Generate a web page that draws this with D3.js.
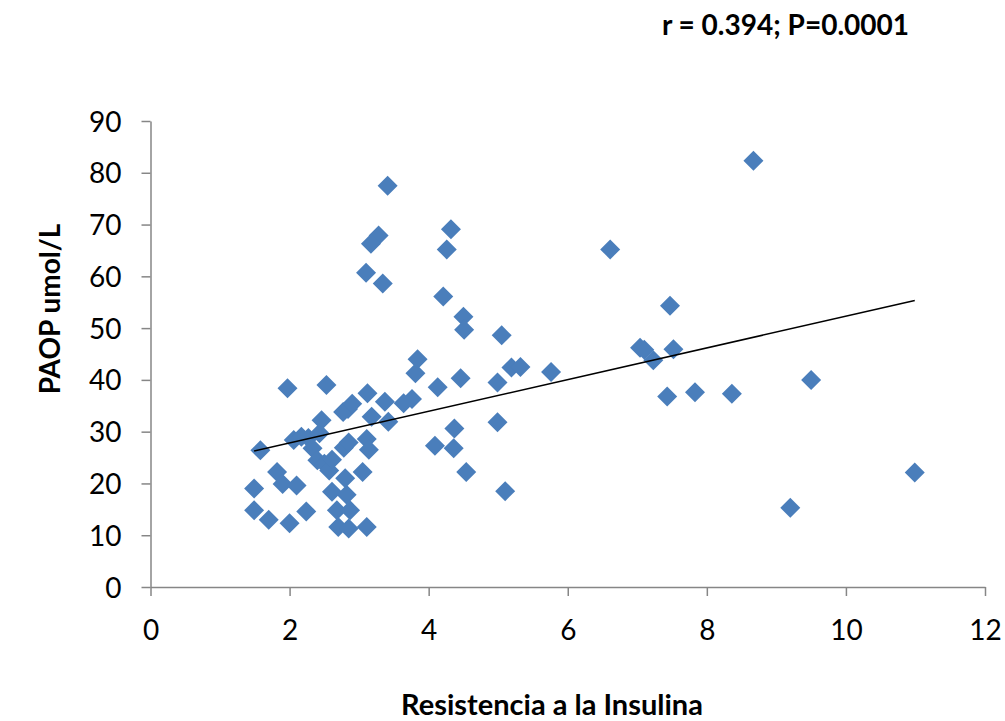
<!DOCTYPE html>
<html>
<head>
<meta charset="utf-8">
<script src="https://cdn.jsdelivr.net/npm/d3@7"></script>
<style>
  body { margin: 0; background: #fff; }
  svg text { font-family: Lato, "Open Sans", sans-serif; fill: #000; }
  .tick text { font-size: 28px; }
</style>
</head>
<body>
<script>
// values
var resistencia = [1.49, 1.49, 1.58, 1.70, 1.82, 1.90, 1.97, 2.00, 2.10, 2.06,
    2.17, 2.24, 2.27, 2.33, 2.40, 2.43, 2.46, 2.50, 2.53, 2.57,
    2.61, 2.61, 2.68, 2.70, 2.82, 2.80, 2.78, 2.85, 2.87, 2.85,
    2.77, 2.84, 2.90, 3.05, 3.11, 3.14, 3.12, 3.18, 3.11, 3.37,
    3.42, 3.64, 3.76, 3.81, 3.84, 3.41, 3.28, 3.17, 3.10, 3.34,
    4.32, 4.26, 4.21, 4.50, 4.51, 5.05, 4.13, 4.46, 4.99, 5.19,
    5.32, 5.76, 4.99, 4.37, 4.09, 4.36, 4.54, 5.10, 6.61, 7.47,
    7.04, 7.10, 7.52, 7.23, 7.43, 7.83, 8.36, 8.67, 9.50, 9.20, 10.99];
var paop = [19.0, 14.8, 26.4, 13.0, 22.2, 19.9, 38.4, 12.3, 19.6, 28.4,
    29.0, 14.6, 28.8, 26.8, 24.5, 29.7, 32.2, 23.8, 39.0, 22.5,
    24.6, 18.4, 14.8, 11.6, 17.8, 21.0, 26.9, 11.3, 14.8, 27.9,
    33.8, 34.4, 35.4, 22.2, 28.6, 26.5, 37.4, 32.9, 11.6, 35.8,
    31.9, 35.5, 36.3, 41.3, 44.0, 77.5, 67.9, 66.3, 60.7, 58.6,
    69.1, 65.2, 56.1, 52.2, 49.7, 48.6, 38.6, 40.3, 39.5, 42.4,
    42.5, 41.5, 31.8, 30.6, 27.3, 26.8, 22.2, 18.5, 65.2, 54.3,
    46.2, 45.8, 45.9, 43.8, 36.8, 37.6, 37.3, 82.3, 40.0, 15.3, 22.1];
var xTicks = [0, 2, 4, 6, 8, 10, 12];
var yTicks = [0, 10, 20, 30, 40, 50, 60, 70, 80, 90];
// trendline as drawn in the picture (y = a*x + b)
var trendSlope = 3.06, trendIntercept = 21.7;
var statsLabel = "r = 0.394; P=0.0001";

var width = 1005, height = 721;
var margin = {left: 150.5, right: 20, top: 121, bottom: 134};

var svg = d3.select("body").append("svg")
    .attr("width", width)
    .attr("height", height);

var x = d3.scaleLinear().domain([0, 12]).range([margin.left, 985]);
var y = d3.scaleLinear().domain([0, 90]).range([587, margin.top]);

var points = resistencia.map(function(v, i) { return {x: v, y: paop[i]}; });

// axes
var xAxis = svg.append("g")
    .attr("transform", "translate(0," + y(0) + ")")
    .call(d3.axisBottom(x).tickValues(xTicks).tickSize(9).tickPadding(24).tickSizeOuter(0));
var yAxis = svg.append("g")
    .attr("transform", "translate(" + x(0) + ",0)")
    .call(d3.axisLeft(y).tickValues(yTicks).tickSize(9).tickPadding(20).tickSizeOuter(0));

[xAxis, yAxis].forEach(function(g) {
    g.select(".domain").attr("stroke", "#868686").attr("stroke-width", 1.5);
    g.selectAll(".tick line").attr("stroke", "#868686").attr("stroke-width", 1.5);
    g.selectAll(".tick text").attr("fill", "#000");
});
yAxis.selectAll(".tick text").attr("dy", "0.36em");

// markers
svg.selectAll(".pt")
    .data(points)
    .enter().append("path")
    .attr("class", "pt")
    .attr("transform", function(d) { return "translate(" + x(d.x) + "," + y(d.y) + ")"; })
    .attr("d", "M0,-10L10,0L0,10L-10,0Z")
    .attr("fill", "#4a7ebb");

// trendline
var xr = d3.extent(resistencia);
svg.append("line")
    .attr("x1", x(xr[0])).attr("y1", y(trendSlope * xr[0] + trendIntercept))
    .attr("x2", x(xr[1])).attr("y2", y(trendSlope * xr[1] + trendIntercept))
    .attr("stroke", "#000")
    .attr("stroke-width", 1.5);

// titles
svg.append("text")
    .attr("x", 552).attr("y", 715)
    .attr("text-anchor", "middle")
    .attr("font-size", "29px").attr("font-weight", "bold")
    .text("Resistencia a la Insulina");

svg.append("text")
    .attr("transform", "translate(60,309) rotate(-90)")
    .attr("text-anchor", "middle")
    .attr("font-size", "28px").attr("font-weight", "bold")
    .text("PAOP umol/L");

svg.append("text")
    .attr("x", 909).attr("y", 35)
    .attr("text-anchor", "end")
    .attr("font-size", "28px").attr("font-weight", "bold")
    .text(statsLabel);
</script>
</body>
</html>
